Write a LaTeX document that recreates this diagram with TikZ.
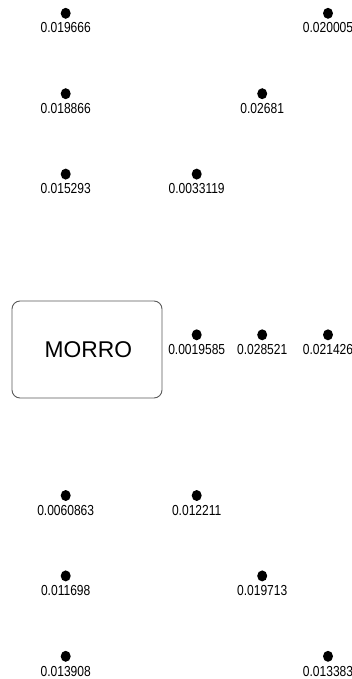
\documentclass[tikz,border=0pt]{standalone}
\usepackage{fontspec}
\setmainfont{Liberation Sans}
\newfontfamily\labfont[FakeStretch=0.83]{Liberation Sans}
\usetikzlibrary{shapes.geometric}
\begin{document}
\begin{tikzpicture}[x=1pt,y=-1pt,
  dotnode/.style={ellipse,fill=black,inner sep=0pt,minimum width=10pt,minimum height=11pt},
  valnode/.style={anchor=base,inner sep=0pt,font=\labfont\fontsize{14.5pt}{16pt}\selectfont},
  boxnode/.style={draw=black!65,line width=0.9pt,rounded corners=8pt,minimum width=150pt,minimum height=97pt,inner sep=0pt}]
\useasboundingbox (0,0) rectangle (351,679);
\clip (0,0) rectangle (351,679);
% box
\node[boxnode] (morro) at (87,349.5) {};
\node[anchor=base,inner sep=0pt,font=\fontsize{22.8pt}{24pt}\selectfont] (morrotext) at (88.3,357.3) {MORRO};
% points
\foreach \nm/\x/\y/\v in {
  p11/65.7/13.3/0.019666, p14/328/13.3/0.020005,
  p21/65.7/93.7/0.018866, p23/262.2/93.7/0.02681,
  p31/65.7/174.1/0.015293, p32/196.7/174.1/0.0033119,
  p42/196.7/334.8/0.0019585, p43/262.2/334.8/0.028521, p44/328/334.8/0.021426,
  p51/65.7/495.5/0.0060863, p52/196.7/495.5/0.012211,
  p61/65.7/575.9/0.011698, p63/262.2/575.9/0.019713,
  p71/65.7/656.3/0.013908, p74/328/656.3/0.013383}{
  \node[dotnode] (\nm) at (\x,\y) {};
  \node[valnode] (\nm t) at (\x,\y+19.7) {\v};
}
\end{tikzpicture}
\end{document}
